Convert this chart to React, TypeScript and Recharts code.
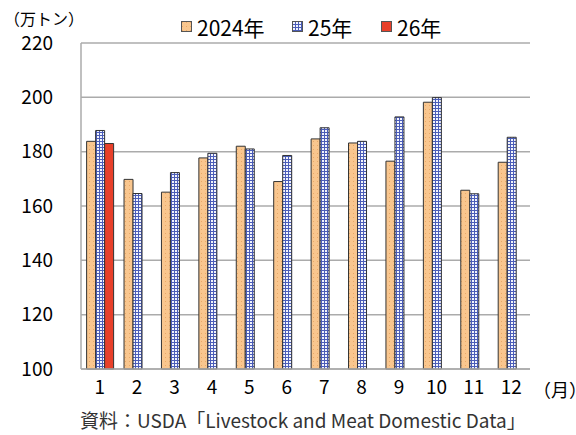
import React from 'react';
import { Bar, BarChart, CartesianGrid, XAxis, YAxis } from 'recharts';

const months = ['1', '2', '3', '4', '5', '6', '7', '8', '9', '10', '11', '12'];
const y2024 = [183.8, 169.8, 165.1, 177.7, 182.0, 169.0, 184.7, 183.2, 176.5, 198.2, 165.8, 176.1];
const y2025 = [187.8, 164.6, 172.3, 179.4, 181.0, 178.6, 188.8, 183.8, 192.8, 199.9, 164.5, 185.3];
const y2026: (number | null)[] = [183.0, null, null, null, null, null, null, null, null, null, null, null];
const yTicks = [100, 120, 140, 160, 180, 200, 220];

const data = months.map((m, i) => ({
  month: m,
  a: y2024[i],
  b: y2025[i],
  c: y2026[i]
}));

const font = '"Noto Sans CJK JP", "Noto Sans", sans-serif';

// legend entries, placed where the reference has them
const legendItems = [
  { label: '2024年', fill: 'url(#dots)', left: 181 },
  { label: '25年', fill: 'url(#grid)', left: 292 },
  { label: '26年', fill: '#E8402A', left: 381 }
];

export default function App (): JSX.Element {
  return (
    <div style={{ position: 'absolute', left: 0, top: 0, width: 576, height: 435, background: '#fff', fontFamily: font, overflow: 'hidden' }}>
      <BarChart
        data={data}
        width={576}
        height={435}
        margin={{ top: 43, right: 46, bottom: 36, left: 0 }}
        barCategoryGap='15%'
        barGap={0}
      >
        <defs>
          <pattern id='dots' width={4} height={4} patternUnits='userSpaceOnUse'>
            <rect width={4} height={4} fill='#F9C68E' />
            <rect x={1} y={1} width={1} height={1} fill='#E8A868' />
          </pattern>
          <pattern id='grid' width={3} height={3} patternUnits='userSpaceOnUse'>
            <rect width={3} height={3} fill='#F2F4FC' />
            <rect x={0} y={0} width={3} height={1} fill='#4B5DB8' />
            <rect x={0} y={0} width={1} height={3} fill='#4B5DB8' />
          </pattern>
        </defs>
        <CartesianGrid vertical={false} stroke='#ABABAB' strokeWidth={1.5} />
        <XAxis
          dataKey='month'
          height={30}
          stroke='#ABABAB'
          strokeWidth={1.5}
          tickLine={false}
          tickSize={0}
          tickMargin={12}
          tick={{ fill: '#000', fontSize: 19, fontFamily: font }}
        />
        <YAxis
          domain={[100, 220]}
          ticks={yTicks}
          width={81}
          stroke='#ABABAB'
          strokeWidth={1.5}
          tickLine={false}
          tickSize={0}
          tickMargin={28}
          tick={{ fill: '#000', fontSize: 19, fontFamily: font }}
        />
        <Bar dataKey='a' fill='url(#dots)' stroke='#333' strokeWidth={1} isAnimationActive={false} />
        <Bar dataKey='b' fill='url(#grid)' stroke='#333' strokeWidth={1} isAnimationActive={false} />
        <Bar dataKey='c' fill='#E8402A' stroke='#333' strokeWidth={1} isAnimationActive={false} />
      </BarChart>
      {legendItems.map((it) => (
        <div key={it.label} style={{ position: 'absolute', left: it.left, top: 14, display: 'flex', alignItems: 'center', fontSize: 21, lineHeight: '26px', color: '#000', whiteSpace: 'nowrap' }}>
          <svg height={12} width={12} style={{ marginRight: 4 }}>
            <rect x={0.5} y={0.5} width={10} height={10} fill={it.fill} stroke='#555' />
          </svg>
          <span>{it.label}</span>
        </div>
      ))}
      <div style={{ position: 'absolute', left: 4, top: 7, fontSize: 16, lineHeight: '22px', color: '#000', whiteSpace: 'nowrap' }}>（万トン）</div>
      <div style={{ position: 'absolute', left: 533, top: 377, fontSize: 18, lineHeight: '24px', color: '#000', whiteSpace: 'nowrap' }}>（月）</div>
      <div style={{ position: 'absolute', left: 80, top: 407, fontSize: 19, lineHeight: '26px', color: '#333', whiteSpace: 'nowrap' }}>
        資料：USDA「Livestock and Meat Domestic Data」
      </div>
    </div>
  );
}
